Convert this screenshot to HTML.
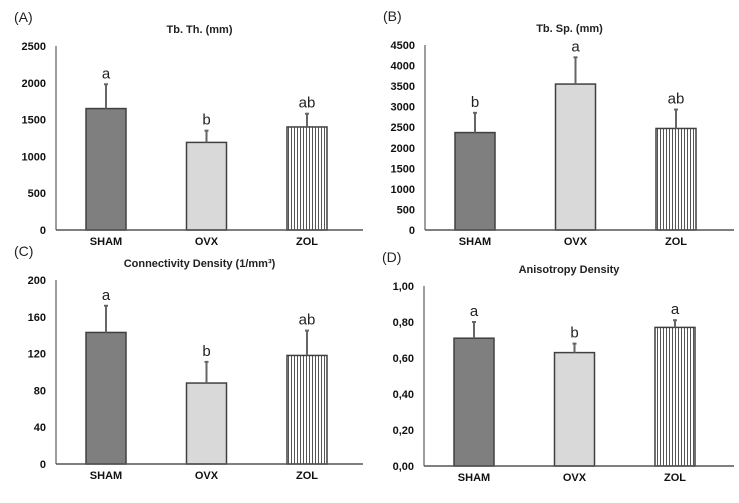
<!DOCTYPE html>
<html><head><meta charset="utf-8"><style>
body{margin:0;background:#fff;width:739px;height:498px;overflow:hidden;font-family:"Liberation Sans",sans-serif}
svg text{font-family:"Liberation Sans",sans-serif}
</style></head><body>
<svg id="fig" width="739" height="498">
<defs><pattern id="vstripe" width="3" height="4" patternUnits="userSpaceOnUse"><rect width="3" height="4" fill="#fff"/><rect width="1" height="4" fill="#555"/></pattern></defs>
</svg>
<script>
const categories=["SHAM","OVX","ZOL"];
const valuesA=[1650,1190,1400]; const errA=[330,160,180]; const lettersA=["a","b","ab"]; const ticksA=["0","500","1000","1500","2000","2500"]; const maxA=2500;
const valuesB=[2370,3550,2470]; const errB=[480,650,460]; const lettersB=["b","a","ab"]; const ticksB=["0","500","1000","1500","2000","2500","3000","3500","4000","4500"]; const maxB=4500;
const valuesC=[143,88,118]; const errC=[29,23,27]; const lettersC=["a","b","ab"]; const ticksC=["0","40","80","120","160","200"]; const maxC=200;
const valuesD=[0.71,0.63,0.77]; const errD=[0.09,0.05,0.04]; const lettersD=["a","b","a"]; const ticksD=["0,00","0,20","0,40","0,60","0,80","1,00"]; const maxD=1;
const svg=document.getElementById('fig');
const NS='http://www.w3.org/2000/svg';
function mk(t,a,txt){const e=document.createElementNS(NS,t);for(const k in a)e.setAttribute(k,a[k]);if(txt!==undefined)e.textContent=txt;svg.appendChild(e);return e;}
const fills=["#7f7f7f","#d9d9d9","url(#vstripe)"];
function panel(id,label,title,ax,top,bot,right,vals,errs,letters,ticks,max){
  const y=v=>bot-(v/max)*(bot-top);
  const x0=ax+30, step=100.5, bw=40;
  let e=mk('text',{x:ax-42,y:top-24,'font-size':14,fill:'#222'},label);
  
  
  e=mk('text',{x:(ax+right)/2-10,y:top-13,'font-size':11,'font-weight':'bold','text-anchor':'middle',fill:'#222'},title);
  
  
  ticks.forEach((t,i)=>{const v=max*i/(ticks.length-1);
    const tt=mk('text',{x:ax-10,y:y(v)+4,'font-size':11,'font-weight':'bold','text-anchor':'end',fill:'#111'},t);
    
    });
  vals.forEach((v,i)=>{const bx=x0+i*step;
    const r=mk('rect',{x:bx,y:y(v),width:bw,height:bot-y(v),fill:fills[i],stroke:'#404040','stroke-width':1.5});
    
    
    const l=mk('line',{x1:bx+bw/2,x2:bx+bw/2,y1:y(v),y2:y(v+errs[i]),stroke:'#666','stroke-width':2});
    
    
    const c=mk('line',{x1:bx+bw/2-2,x2:bx+bw/2+2,y1:y(v+errs[i]),y2:y(v+errs[i]),stroke:'#666','stroke-width':2});
    
    
    const s=mk('text',{x:bx+bw/2,y:y(v+errs[i])-6,'font-size':15,'text-anchor':'middle',fill:'#222'},letters[i]);
    
    
    const cl=mk('text',{x:bx+bw/2,y:bot+15,'font-size':11,'font-weight':'bold','text-anchor':'middle',fill:'#111'},categories[i]);
    
    
  });
  e=mk('line',{x1:ax,x2:ax,y1:top,y2:bot,stroke:'#7f7f7f','stroke-width':1.5});
  
  
  e=mk('line',{x1:ax,x2:right,y1:bot,y2:bot,stroke:'#555','stroke-width':1.5});
  
  
}
panel('a','(A)','Tb. Th. (mm)',56,46,230,363,valuesA,errA,lettersA,ticksA,maxA);
panel('b','(B)','Tb. Sp. (mm)',425,45,230,734,valuesB,errB,lettersB,ticksB,maxB);
panel('c','(C)','Connectivity Density (1/mm³)',56,280,464,363,valuesC,errC,lettersC,ticksC,maxC);
panel('d','(D)','Anisotropy Density',424,286,466,734,valuesD,errD,lettersD,ticksD,maxD);
</script>
</body></html>
